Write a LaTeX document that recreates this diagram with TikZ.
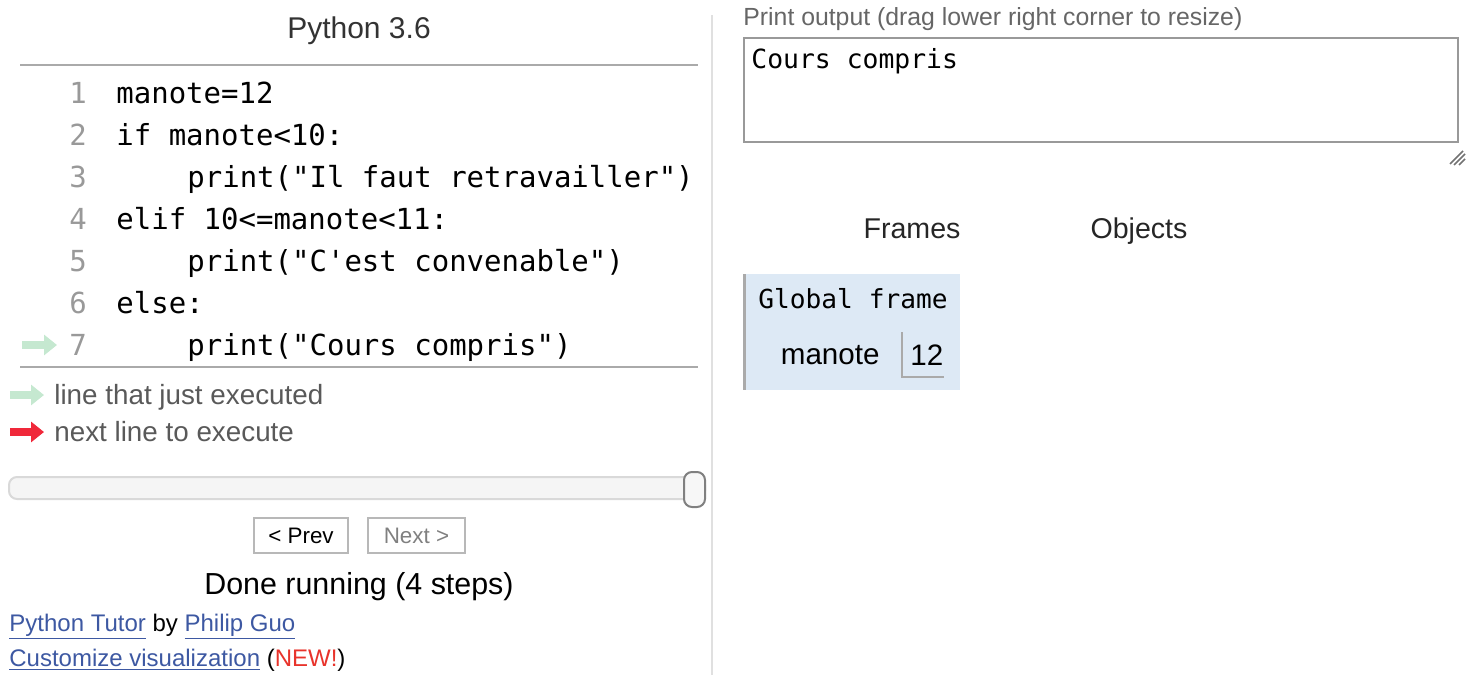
\documentclass[tikz,border=0pt]{standalone}
\usepackage{fontspec}
\setmainfont{Liberation Sans}
\setmonofont{DejaVu Sans Mono}
\usetikzlibrary{arrows.meta,positioning}

\definecolor{doneGreen}{HTML}{C5E8D0}
\definecolor{nextRed}{HTML}{F0283A}
\definecolor{linkBlue}{HTML}{3D58A2}
\definecolor{newRed}{HTML}{E8332B}
\definecolor{frameBlue}{HTML}{DDE9F5}
\definecolor{ruleGray}{HTML}{AAAAAA}

\begin{document}
\begin{tikzpicture}[x=0.5pt, y=-0.5pt, inner sep=0pt,
    code/.style={font=\fontsize{14.5}{17}\ttfamily, anchor=base west},
    lnum/.style={font=\fontsize{14.5}{17}\ttfamily, text=black!40, anchor=base},
    legtext/.style={font=\fontsize{13.9}{16}\selectfont, text=black!65, anchor=base west},
    hdr/.style={font=\fontsize{14.3}{17}\selectfont, text=black!85, anchor=base},
    btn/.style={draw=black!28, line width=1pt, minimum width=47pt, minimum height=17.5pt, font=\fontsize{11.2}{13}\selectfont},
    doneArrow/.style={doneGreen, line width=4pt, -{Triangle[length=6.5pt,width=10pt]}},
    nextArrow/.style={nextRed, line width=4pt, -{Triangle[length=6.5pt,width=10pt]}}]
    \useasboundingbox (0,0) rectangle (1473,686);

    % Code panel
    \node [font=\fontsize{15}{18}\selectfont, text=black!80, anchor=base] (title) at (359,38) {Python 3.6};
    \draw [ruleGray, line width=1pt] (20,65) -- (698,65);

    \node [lnum] (n1) at (78,103) {1};
    \node [lnum] (n2) at (78,145) {2};
    \node [lnum] (n3) at (78,187) {3};
    \node [lnum] (n4) at (78,229) {4};
    \node [lnum] (n5) at (78,271) {5};
    \node [lnum] (n6) at (78,313) {6};
    \node [lnum] (n7) at (78,355) {7};

    \node [code] (l1) at (116,103) {manote=12};
    \node [code] (l2) at (116,145) {if manote<10:};
    \node [code] (l3) at (187,187) {print("Il faut retravailler")};
    \node [code] (l4) at (116,229) {elif 10<=manote<11:};
    \node [code] (l5) at (187,271) {print("C'est convenable")};
    \node [code] (l6) at (116,313) {else:};
    \node [code] (l7) at (187,355) {print("Cours compris")};

    \coordinate (c7a) at (22,345);
    \coordinate (c7b) at (57,345);
    \draw [doneArrow] (c7a) -- (c7b);

    \draw [ruleGray, line width=1pt] (20,367) -- (698,367);

    % Legend
    \coordinate (dA) at (10,395);
    \coordinate (dB) at (44,395);
    \coordinate (nA) at (10,432);
    \coordinate (nB) at (44,432);
    \draw [doneArrow] (dA) -- (dB);
    \draw [nextArrow] (nA) -- (nB);
    \node [legtext] (legDone) at (54,404) {line that just executed};
    \node [legtext] (legNext) at (54,441) {next line to execute};

    % Slider and buttons
    \draw [fill=black!4, draw=black!15, line width=1pt, rounded corners=4pt] (9,477) rectangle (705,499);
    \draw [fill=black!3, draw=black!50, line width=1pt, rounded corners=4pt] (684,472) rectangle (705,507);

    \node [btn] (prev) at (301,535.5) {< Prev};
    \node [btn, text=black!50, minimum width=48.5pt, right=9pt of prev] (next) {Next >};

    \node [font=\fontsize{15.2}{18}\selectfont, anchor=base] (done) at (359,594) {Done running (4 steps)};
    \node [font=\fontsize{12}{14}\selectfont, anchor=base west] (credit) at (9,631)
        {\textcolor{linkBlue}{\underline{Python Tutor}} by \textcolor{linkBlue}{\underline{Philip Guo}}};
    \node [font=\fontsize{12}{14}\selectfont, anchor=base west] (custom) at (9,666)
        {\textcolor{linkBlue}{\underline{Customize visualization}} (\textcolor{newRed}{NEW!})};

    \draw [black!12, line width=1pt] (712,15) -- (712,675);

    % Output panel
    \node [font=\fontsize{12.4}{14}\selectfont, text=black!60, anchor=base west] (outlbl) at (743,25)
        {Print output (drag lower right corner to resize)};
    \draw [black!40, line width=1pt] (744,38) rectangle (1458,142);
    \node [code, font=\fontsize{13.2}{16}\ttfamily] (out) at (751,68) {Cours compris};
    % resize grip
    \draw [black!55, line width=0.8pt] (1463,151) -- (1450,164);
    \draw [black!55, line width=0.8pt] (1465,154) -- (1454,165);
    \draw [black!55, line width=0.8pt] (1465,159) -- (1459,165);

    % Frames and objects
    \node [hdr] (frames) at (912,238) {Frames};
    \node [hdr] (objects) at (1139,238) {Objects};

    \fill [frameBlue] (743,274) rectangle (960,390);
    \draw [ruleGray, line width=1.5pt] (744.5,274) -- (744.5,390);
    \node [code, font=\fontsize{13.1}{16}\ttfamily, anchor=base] (gf) at (853,308) {Global frame};
    \node [font=\fontsize{14.8}{18}\selectfont, anchor=base east] (var) at (880,364) {manote};
    \node [font=\fontsize{14.8}{18}\selectfont, anchor=base west] (val) at (910,365) {12};
    \draw [ruleGray, line width=1pt] (902,332) -- (902,377) -- (944,377);
\end{tikzpicture}
\end{document}
